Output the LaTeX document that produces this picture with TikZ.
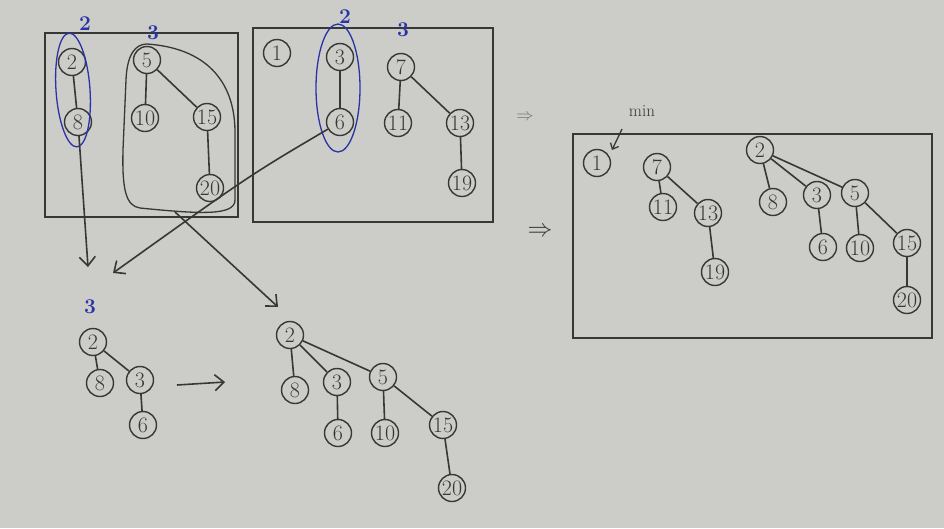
\documentclass[tikz,border=0pt]{standalone}
\usetikzlibrary{arrows.meta}
\definecolor{paper}{RGB}{204,204,201}
\definecolor{pencil}{RGB}{55,55,55}
\definecolor{ink}{RGB}{40,52,165}

\begin{document}
\begin{tikzpicture}
[x=1pt,y=-1pt,
every node/.style={circle,draw=pencil,line width=1.4pt,minimum size=27pt,inner sep=0pt,text=pencil,font=\fontsize{22}{22}\selectfont},
edge/.style={draw=pencil,line width=1.6pt},
frame/.style={draw=pencil,line width=2pt},
rank/.style={draw=none,rectangle,text=ink,font=\fontsize{21}{21}\selectfont\bfseries},
note/.style={draw=none,rectangle,text=pencil},
arrow/.style={edge,-{Straight Barb[length=9pt,width=16pt]}},
]

\fill[paper] (0,0) rectangle (944,528);
\useasboundingbox (0,0) rectangle (944,528);

% first heap
\draw[frame] (45,33) rectangle (238,217);
\node (a2) at (72,62) {2};
\node (a8) at (78,122) {8};
\node (a5) at (147,60) {5};
\node (a10) at (145,118) {10};
\node (a15) at (207,117) {15};
\node (a20) at (210,188) {20};
\draw[edge] (a2) -- (a8);
\draw[edge] (a5) -- (a10);
\draw[edge] (a5) -- (a15);
\draw[edge] (a15) -- (a20);
\draw[ink,line width=1.3pt,rotate around={4:(73,90)}] (73,90) ellipse [x radius=17pt,y radius=57pt];
\draw[edge,line width=1.3pt] (147,44) .. controls (205,48) and (234,80) .. (235,130) -- (235,200)
  .. controls (235,216) and (200,214) .. (140,208) .. controls (126,206) and (122,190) .. (123,150)
  -- (126,80) .. controls (127,55) and (135,44) .. (147,44);
\node[rank] (r1) at (85,24) {2};
\node[rank] (r2) at (153,33) {3};

% second heap
\draw[frame] (253,28) rectangle (493,222);
\node (b1) at (277,53) {1};
\node (b3) at (340,57) {3};
\node (b6) at (340,122) {6};
\node (b7) at (401,67) {7};
\node (b11) at (398,123) {11};
\node (b13) at (460,123) {13};
\node (b19) at (462,183) {19};
\draw[edge] (b3) -- (b6);
\draw[edge] (b7) -- (b11);
\draw[edge] (b7) -- (b13);
\draw[edge] (b13) -- (b19);
\draw[ink,line width=1.3pt] (338,88) ellipse [x radius=22pt,y radius=64pt];
\node[rank] (r3) at (345,17) {2};
\node[rank] (r4) at (403,30) {3};

% linking
\coordinate (t1) at (88,267);
\coordinate (t2) at (113,273);
\coordinate (s3) at (175,212);
\coordinate (t3) at (278,307);
\draw[arrow] (a8) -- (t1);
\draw[arrow] (b6) .. controls (250,175) .. (t2);
\draw[arrow] (s3) -- (t3);

\node[rank] (r5) at (90,307) {3};
\node (c2) at (93,342) {2};
\node (c8) at (100,383) {8};
\node (c3) at (140,380) {3};
\node (c6) at (143,425) {6};
\draw[edge] (c2) -- (c8);
\draw[edge] (c2) -- (c3);
\draw[edge] (c3) -- (c6);

\coordinate (u1) at (177,385);
\coordinate (u2) at (225,382);
\draw[arrow] (u1) -- (u2);

\node (d2) at (290,335) {2};
\node (d8) at (295,390) {8};
\node (d3) at (337,382) {3};
\node (d5) at (383,377) {5};
\node (d6) at (338,433) {6};
\node (d10) at (385,433) {10};
\node (d15) at (443,425) {15};
\node (d20) at (452,488) {20};
\draw[edge] (d2) -- (d8);
\draw[edge] (d2) -- (d3);
\draw[edge] (d2) -- (d5);
\draw[edge] (d3) -- (d6);
\draw[edge] (d5) -- (d10);
\draw[edge] (d5) -- (d15);
\draw[edge] (d15) -- (d20);

% result
\node[note,text=pencil!70,font=\LARGE] (g1) at (525,117) {$\Rightarrow$};
\node[note,font=\fontsize{38}{38}\selectfont] (g2) at (540,232) {$\Rightarrow$};

\draw[frame] (573,134) rectangle (932,338);
\node[note,font=\fontsize{17}{17}\selectfont] (m) at (642,111) {min};
\coordinate (v1) at (622,129);
\coordinate (v2) at (612,150);
\draw[arrow,line width=1.3pt,-{Straight Barb[length=5pt,width=9pt]}] (v1) -- (v2);
\node (e1) at (597,163) {1};
\node (e7) at (657,167) {7};
\node (e11) at (663,207) {11};
\node (e13) at (708,213) {13};
\node (e19) at (715,272) {19};
\node (e2) at (760,150) {2};
\node (e8) at (773,202) {8};
\node (e3) at (817,195) {3};
\node (e5) at (855,193) {5};
\node (e6) at (823,247) {6};
\node (e10) at (860,248) {10};
\node (e15) at (907,243) {15};
\node (e20) at (907,300) {20};
\draw[edge] (e7) -- (e11);
\draw[edge] (e7) -- (e13);
\draw[edge] (e13) -- (e19);
\draw[edge] (e2) -- (e8);
\draw[edge] (e2) -- (e3);
\draw[edge] (e2) -- (e5);
\draw[edge] (e3) -- (e6);
\draw[edge] (e5) -- (e10);
\draw[edge] (e5) -- (e15);
\draw[edge] (e15) -- (e20);
\end{tikzpicture}
\end{document}
